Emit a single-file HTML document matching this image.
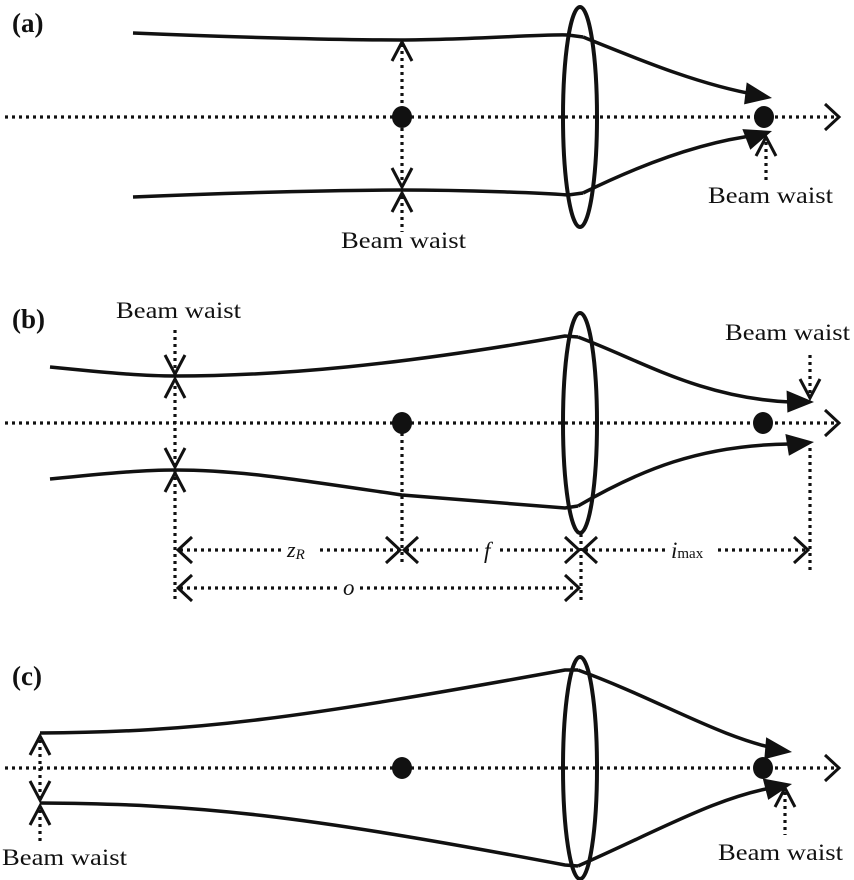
<!DOCTYPE html>
<html><head><meta charset="utf-8"><style>
html,body{margin:0;padding:0;background:#fff}
svg{display:block}
text{font-family:"Liberation Serif",serif;fill:#111}
</style></head><body>
<svg width="854" height="880" viewBox="0 0 854 880" xmlns="http://www.w3.org/2000/svg">
<defs>
<g id="chev"><polyline points="-10,19 0,0 10,19" fill="none" stroke="#111" stroke-width="3"/></g>
<g id="dchev"><polyline points="-13,14 0,0 13,14" fill="none" stroke="#111" stroke-width="3"/></g>
<g id="tri"><polygon points="0,0 -28,-10 -26,12" fill="#111"/></g>
</defs>
<g fill="none" stroke="#111">
<!-- ===== (a) ===== -->
<line x1="5" y1="117" x2="836" y2="117" stroke-width="3.2" stroke-dasharray="3,4"/>
<path d="M133,33 C250,38 350,40 400,40 C470,40 540,34 568,35 L583,37" stroke-width="3.5"/>
<path d="M583,37 C640,60 700,85 758,95" stroke-width="3.5"/>
<path d="M133,197 C250,192 350,190 400,190 C470,190 540,193 568,195 L583,193" stroke-width="3.5"/>
<path d="M583,193 C640,165 700,142 758,135" stroke-width="3.5"/>
<ellipse cx="580" cy="117" rx="17" ry="110" stroke-width="4"/>
<line x1="402" y1="44" x2="402" y2="186" stroke-width="3.2" stroke-dasharray="3,4"/>
<line x1="402" y1="196" x2="402" y2="232" stroke-width="3.2" stroke-dasharray="3,4"/>
<line x1="766" y1="142" x2="766" y2="182" stroke-width="3.2" stroke-dasharray="3,4"/>
<!-- ===== (b) ===== -->
<line x1="5" y1="423" x2="836" y2="423" stroke-width="3.2" stroke-dasharray="3,4"/>
<path d="M50,367 C100,372 140,376 175,376 C280,376 400,365 565,336 L578,337" stroke-width="3.5"/>
<path d="M578,337 C640,360 700,398 790,402" stroke-width="3.5"/>
<path d="M50,479 C100,474 140,470 175,470 C240,470 300,480 402,495 L565,508 L578,506" stroke-width="3.5"/>
<path d="M578,506 C640,470 700,445 790,444" stroke-width="3.5"/>
<ellipse cx="580" cy="423" rx="17" ry="110" stroke-width="4"/>
<line x1="175" y1="330" x2="175" y2="600" stroke-width="3.2" stroke-dasharray="3,4"/>
<line x1="810" y1="355" x2="810" y2="396" stroke-width="3.2" stroke-dasharray="3,4"/>
<line x1="810" y1="448" x2="810" y2="570" stroke-width="3.2" stroke-dasharray="3,4"/>
<line x1="402" y1="433" x2="402" y2="565" stroke-width="3.2" stroke-dasharray="3,4"/>
<line x1="581" y1="534" x2="581" y2="602" stroke-width="3.2" stroke-dasharray="3,4"/>
<line x1="180" y1="550" x2="283" y2="550" stroke-width="3.2" stroke-dasharray="3,4"/>
<line x1="320" y1="550" x2="398" y2="550" stroke-width="3.2" stroke-dasharray="3,4"/>
<line x1="406" y1="550" x2="478" y2="550" stroke-width="3.2" stroke-dasharray="3,4"/>
<line x1="500" y1="550" x2="577" y2="550" stroke-width="3.2" stroke-dasharray="3,4"/>
<line x1="585" y1="550" x2="665" y2="550" stroke-width="3.2" stroke-dasharray="3,4"/>
<line x1="718" y1="550" x2="806" y2="550" stroke-width="3.2" stroke-dasharray="3,4"/>
<line x1="180" y1="588" x2="340" y2="588" stroke-width="3.2" stroke-dasharray="3,4"/>
<line x1="360" y1="588" x2="577" y2="588" stroke-width="3.2" stroke-dasharray="3,4"/>
<!-- ===== (c) ===== -->
<line x1="5" y1="768" x2="836" y2="768" stroke-width="3.2" stroke-dasharray="3,4"/>
<path d="M40,733 C200,732 300,718 565,670 L578,670" stroke-width="3.5"/>
<path d="M578,670 C660,700 720,738 782,750" stroke-width="3.5"/>
<path d="M40,803 C200,804 300,815 565,865 L578,866" stroke-width="3.5"/>
<path d="M578,866 C660,830 720,795 782,786" stroke-width="3.5"/>
<ellipse cx="580" cy="768" rx="17" ry="111" stroke-width="4"/>
<line x1="40" y1="740" x2="40" y2="798" stroke-width="3.2" stroke-dasharray="3,4"/>
<line x1="40" y1="810" x2="40" y2="842" stroke-width="3.2" stroke-dasharray="3,4"/>
<line x1="785" y1="792" x2="785" y2="835" stroke-width="3.2" stroke-dasharray="3,4"/>
</g>
<g fill="#111">
<ellipse cx="402" cy="117" rx="10" ry="11"/><ellipse cx="764" cy="117" rx="10" ry="11"/>
<ellipse cx="402" cy="423" rx="10" ry="11"/><ellipse cx="763" cy="423" rx="10" ry="11"/>
<ellipse cx="402" cy="768" rx="10" ry="11"/><ellipse cx="763" cy="768" rx="10" ry="11"/>
</g>
<use href="#tri" transform="translate(772,98) rotate(12)"/>
<use href="#tri" transform="translate(772,131) rotate(-16)"/>
<use href="#tri" transform="translate(814,402) rotate(3)"/>
<use href="#tri" transform="translate(814,442) rotate(-4)"/>
<use href="#tri" transform="translate(792,752) rotate(10)"/>
<use href="#tri" transform="translate(792,784) rotate(-9)"/>
<use href="#dchev" transform="translate(839,117) rotate(90)"/>
<use href="#dchev" transform="translate(839,423) rotate(90)"/>
<use href="#dchev" transform="translate(839,768) rotate(90)"/>
<use href="#chev" transform="translate(402,42)"/>
<use href="#chev" transform="translate(402,187) rotate(180)"/>
<use href="#chev" transform="translate(402,193)"/>
<use href="#chev" transform="translate(766,137)"/>
<use href="#chev" transform="translate(175,374) rotate(180)"/>
<use href="#chev" transform="translate(175,379)"/>
<use href="#chev" transform="translate(175,467) rotate(180)"/>
<use href="#chev" transform="translate(175,473)"/>
<use href="#chev" transform="translate(810,398) rotate(180)"/>
<use href="#chev" transform="translate(40,736)"/>
<use href="#chev" transform="translate(40,800) rotate(180)"/>
<use href="#chev" transform="translate(40,806)"/>
<use href="#chev" transform="translate(785,788)"/>
<use href="#dchev" transform="translate(178,550) rotate(-90)"/>
<use href="#dchev" transform="translate(400,550) rotate(90)"/>
<use href="#dchev" transform="translate(404,550) rotate(-90)"/>
<use href="#dchev" transform="translate(579,550) rotate(90)"/>
<use href="#dchev" transform="translate(583,550) rotate(-90)"/>
<use href="#dchev" transform="translate(808,550) rotate(90)"/>
<use href="#dchev" transform="translate(178,588) rotate(-90)"/>
<use href="#dchev" transform="translate(579,588) rotate(90)"/>
<text x="12" y="32" font-size="27" font-weight="bold">(a)</text>
<text x="12" y="328" font-size="27" font-weight="bold">(b)</text>
<text x="12" y="685" font-size="27" font-weight="bold">(c)</text>
<text x="341" y="248" font-size="23" textLength="125" lengthAdjust="spacingAndGlyphs">Beam waist</text>
<text x="708" y="203" font-size="23" textLength="125" lengthAdjust="spacingAndGlyphs">Beam waist</text>
<text x="116" y="318" font-size="23" textLength="125" lengthAdjust="spacingAndGlyphs">Beam waist</text>
<text x="725" y="340" font-size="23" textLength="125" lengthAdjust="spacingAndGlyphs">Beam waist</text>
<text x="2" y="865" font-size="23" textLength="125" lengthAdjust="spacingAndGlyphs">Beam waist</text>
<text x="718" y="860" font-size="23" textLength="125" lengthAdjust="spacingAndGlyphs">Beam waist</text>
<text x="287" y="557" font-size="22" font-style="italic" fill="#333">z<tspan font-size="15" dy="2">R</tspan></text>
<text x="484" y="558" font-size="23" font-style="italic">f</text>
<text x="671" y="558" font-size="23" font-style="italic">i<tspan font-size="15" font-style="normal">max</tspan></text>
<text x="343" y="595" font-size="23" font-style="italic">o</text>
</svg>
</body></html>
